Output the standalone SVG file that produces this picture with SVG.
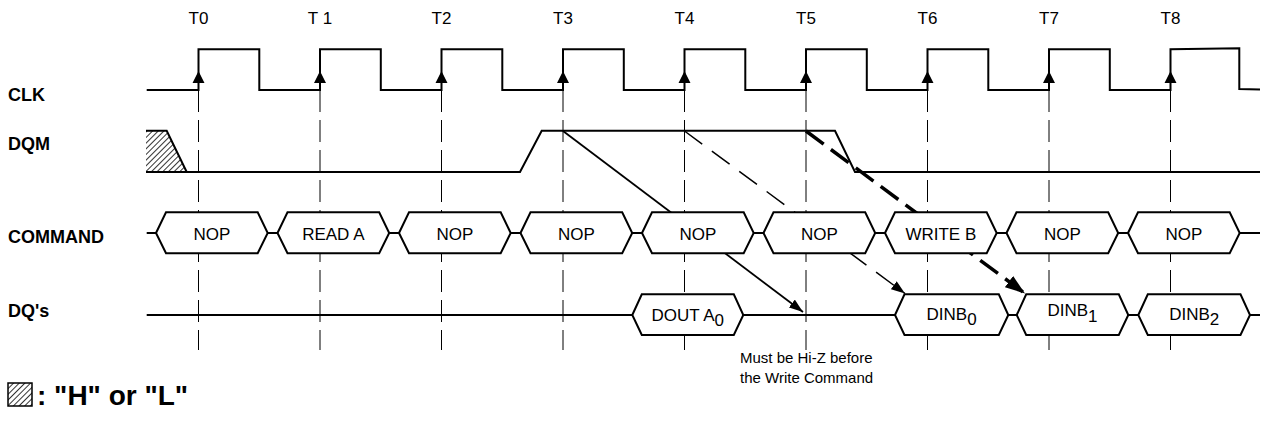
<svg xmlns="http://www.w3.org/2000/svg" width="1263" height="421" viewBox="0 0 1263 421">
<style>
  .sig{fill:none;stroke:#000;stroke-width:2;stroke-linejoin:miter}
  .grid{stroke:#000;stroke-width:1;stroke-dasharray:22 8}
  .box{fill:#fff;stroke:#000;stroke-width:2;stroke-linejoin:miter}
  .tl{font-family:"Liberation Sans",Arial,sans-serif;font-size:17px;text-anchor:middle}
  .lbl{font-family:"Liberation Sans",Arial,sans-serif;font-size:18px;font-weight:bold}
  .cmd{font-family:"Liberation Sans",Arial,sans-serif;font-size:17px;text-anchor:middle}
  .note{font-family:"Liberation Sans",Arial,sans-serif;font-size:15px}
  .leg{font-family:"Liberation Sans",Arial,sans-serif;font-size:28px;font-weight:bold}
</style>
<defs>
  <pattern id="hatch" patternUnits="userSpaceOnUse" width="4" height="4" patternTransform="rotate(45)">
    <rect width="4" height="4" fill="#fff"/>
    <line x1="0" y1="0" x2="0" y2="4" stroke="#000" stroke-width="1.6"/>
  </pattern>
  <marker id="ahS" markerUnits="userSpaceOnUse" viewBox="0 0 14 10" refX="14" refY="5" markerWidth="14" markerHeight="10" orient="auto">
    <path d="M0,0 L14,5 L0,10 Z" fill="#000"/>
  </marker>
  <marker id="ahT" markerUnits="userSpaceOnUse" viewBox="0 0 20 14" refX="20" refY="7" markerWidth="20" markerHeight="14" orient="auto">
    <path d="M0,0 L20,7 L0,14 Z" fill="#000"/>
  </marker>
</defs>
<rect width="1263" height="421" fill="#fff"/>

<g id="time-labels">
  <text class="tl" x="198.5" y="24">T0</text>
  <text class="tl" x="320" y="24">T 1</text>
  <text class="tl" x="441.5" y="24">T2</text>
  <text class="tl" x="563" y="24">T3</text>
  <text class="tl" x="684.5" y="24">T4</text>
  <text class="tl" x="806" y="24">T5</text>
  <text class="tl" x="927.5" y="24">T6</text>
  <text class="tl" x="1049" y="24">T7</text>
  <text class="tl" x="1170.5" y="24">T8</text>
</g>

<g id="gridlines">
  <line class="grid" x1="198.5" y1="90" x2="198.5" y2="350"/>
  <line class="grid" x1="320" y1="90" x2="320" y2="350"/>
  <line class="grid" x1="441.5" y1="90" x2="441.5" y2="350"/>
  <line class="grid" x1="563" y1="90" x2="563" y2="350"/>
  <line class="grid" x1="684.5" y1="90" x2="684.5" y2="350"/>
  <line class="grid" x1="806" y1="90" x2="806" y2="350"/>
  <line class="grid" x1="927.5" y1="90" x2="927.5" y2="350"/>
  <line class="grid" x1="1049" y1="90" x2="1049" y2="350"/>
  <line class="grid" x1="1170.5" y1="90" x2="1170.5" y2="350"/>
</g>

<g id="signal-labels">
  <text class="lbl" x="8" y="101">CLK</text>
  <text class="lbl" x="8" y="150">DQM</text>
  <text class="lbl" x="8" y="243">COMMAND</text>
  <text class="lbl" x="8" y="317">DQ's</text>
</g>

<g id="clk">
  <path class="sig" d="M146.7,90 H198.5 V49.3 H259.3 V90 H320 V49.3 H380.8 V90 H441.5 V49.3 H502.3 V90 H563 V49.3 H623.8 V90 H684.5 V49.3 H745.3 V90 H806 V49.3 H866.8 V90 H927.5 V49.3 H988.3 V90 H1049 V49.3 H1109.8 V90 H1170.5 V49.3 L1239.3,48.3 V89 L1260,89.5"/>
  <path d="M198.5,71 l-6,12 h12 Z M320,71 l-6,12 h12 Z M441.5,71 l-6,12 h12 Z M563,71 l-6,12 h12 Z M684.5,71 l-6,12 h12 Z M806,71 l-6,12 h12 Z M927.5,71 l-6,12 h12 Z M1049,71 l-6,12 h12 Z M1170.5,71 l-6,12 h12 Z" fill="#000"/>
</g>

<g id="dqm">
  <polygon points="146,130.7 166.7,130.7 186.7,172 146,172" fill="url(#hatch)"/>
  <path class="sig" d="M146,130.7 H166.7 L186.7,172"/>
  <path class="sig" d="M146,172 H520 L541.7,130.7 H835 L855,172 H1260"/>
</g>

<g id="connectors">
  <line x1="563" y1="131" x2="803" y2="312" stroke="#000" stroke-width="1.8" marker-end="url(#ahS)"/>
  <line x1="684.5" y1="131" x2="905" y2="293.5" stroke="#000" stroke-width="1.5" stroke-dasharray="22 12" marker-end="url(#ahS)"/>
  <line x1="806" y1="131" x2="1025" y2="293.5" stroke="#000" stroke-width="3.5" stroke-dasharray="22 9" marker-end="url(#ahT)"/>
</g>

<g id="command">
  <line class="sig" x1="146.7" y1="233" x2="1260" y2="233"/>
  <g id="cmd-0"><polygon class="box" points="156,233 166,212.3 257.7,212.3 267.7,233 257.7,253.3 166,253.3"/><text class="cmd" x="211.85" y="240">NOP</text></g>
  <g id="cmd-1"><polygon class="box" points="277.5,233 287.5,212.3 379.2,212.3 389.2,233 379.2,253.3 287.5,253.3"/><text class="cmd" x="333.35" y="240">READ A</text></g>
  <g id="cmd-2"><polygon class="box" points="399,233 409,212.3 500.7,212.3 510.7,233 500.7,253.3 409,253.3"/><text class="cmd" x="454.85" y="240">NOP</text></g>
  <g id="cmd-3"><polygon class="box" points="520.5,233 530.5,212.3 622.2,212.3 632.2,233 622.2,253.3 530.5,253.3"/><text class="cmd" x="576.35" y="240">NOP</text></g>
  <g id="cmd-4"><polygon class="box" points="642,233 652,212.3 743.7,212.3 753.7,233 743.7,253.3 652,253.3"/><text class="cmd" x="697.85" y="240">NOP</text></g>
  <g id="cmd-5"><polygon class="box" points="763.5,233 773.5,212.3 865.2,212.3 875.2,233 865.2,253.3 773.5,253.3"/><text class="cmd" x="819.35" y="240">NOP</text></g>
  <g id="cmd-6"><polygon class="box" points="885,233 895,212.3 986.7,212.3 996.7,233 986.7,253.3 895,253.3"/><text class="cmd" x="940.85" y="240">WRITE B</text></g>
  <g id="cmd-7"><polygon class="box" points="1006.5,233 1016.5,212.3 1108.2,212.3 1118.2,233 1108.2,253.3 1016.5,253.3"/><text class="cmd" x="1062.35" y="240">NOP</text></g>
  <g id="cmd-8"><polygon class="box" points="1128,233 1138,212.3 1229.7,212.3 1239.7,233 1229.7,253.3 1138,253.3"/><text class="cmd" x="1183.85" y="240">NOP</text></g>
</g>

<g id="dq">
  <line class="sig" x1="146.7" y1="315" x2="1260" y2="315"/>
  <g id="dq-dout"><polygon class="box" points="632.3,315 641.8,294.3 733.8,294.3 743.3,315 733.8,335 641.8,335"/><text class="cmd" x="687.8" y="321">DOUT A<tspan dy="5">0</tspan></text></g>
  <g id="dq-dinb0"><polygon class="box" points="895,315 904.5,294.3 998.8,294.3 1008.3,315 998.8,335 904.5,335"/><text class="cmd" x="951.6" y="320">DINB<tspan dy="5">0</tspan></text></g>
  <g id="dq-dinb1"><polygon class="box" points="1016.7,315 1026.2,294.3 1118.8,294.3 1128.3,315 1118.8,335 1026.2,335"/><text class="cmd" x="1072.5" y="316">DINB<tspan dy="6">1</tspan></text></g>
  <g id="dq-dinb2"><polygon class="box" points="1138.3,315 1147.8,294.3 1240.5,294.3 1250,315 1240.5,335 1147.8,335"/><text class="cmd" x="1194.2" y="320">DINB<tspan dy="5">2</tspan></text></g>
</g>

<g id="note">
  <text class="note" x="740" y="363">Must be Hi-Z before</text>
  <text class="note" x="740" y="383">the Write Command</text>
</g>

<g id="legend">
  <rect x="8" y="383" width="24" height="23" fill="url(#hatch)" stroke="#000" stroke-width="1.5"/>
  <text class="leg" x="37" y="405">: "H" or "L"</text>
</g>
</svg>
